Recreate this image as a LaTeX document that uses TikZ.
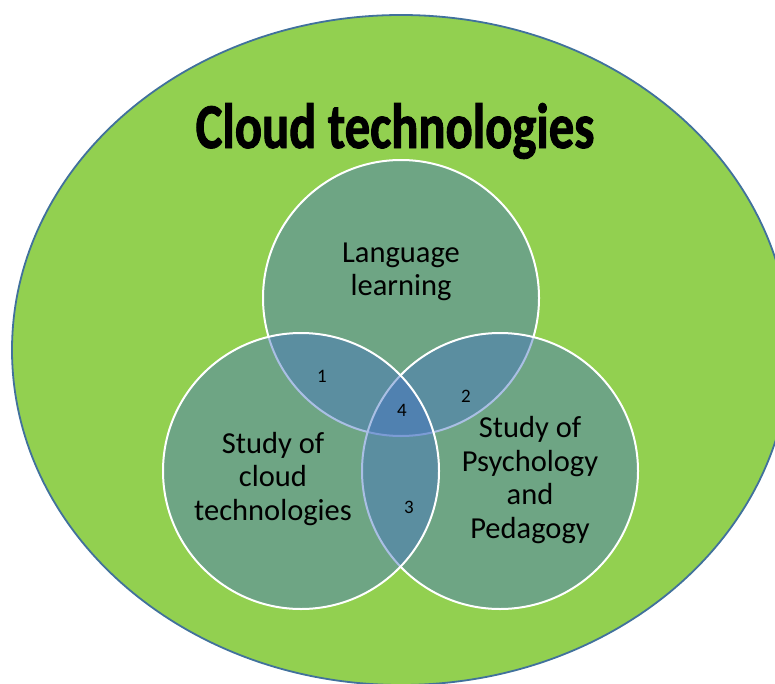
\documentclass[tikz,border=0pt]{standalone}
\usepackage{fontspec}
\setmainfont{Carlito}
\newfontfamily\titlefont[FakeStretch=0.79,FakeBold=1.4]{Carlito}
\definecolor{vnGreen}{HTML}{92D050}
\definecolor{vnRim}{HTML}{41719C}
\definecolor{vnBlue}{HTML}{4472C4}
\usetikzlibrary{positioning}

\begin{document}
\begin{tikzpicture}[
  x=1pt,y=-1pt,
  set/.style={circle,minimum size=276pt,inner sep=0pt,draw=white,line width=2pt,
              fill=vnBlue,fill opacity=0.45},
  lbl/.style={align=center,font=\fontsize{30.5}{33.5}\selectfont,text=black},
  num/.style={font=\fontsize{19}{19}\selectfont,text=black}
]
\useasboundingbox (0,0) rectangle (775,684);
\clip (0,0) rectangle (775,684);
\draw[vnRim,line width=1.8pt,fill=vnGreen] (401,350) ellipse [x radius=389, y radius=335];
\node[font=\titlefont\bfseries\fontsize{64}{64}\selectfont] (title) at (395,131) {Cloud technologies};
% the three sets
\node[set] (lang) at (401,298) {};
\node[set] (psy) at (500,471) {};
\node[set] (cloud) at (301,471) {};
\node[lbl] (langtxt) at (401,272) {Language\\learning};
\node[lbl] (cloudtxt) at (273,479) {Study of\\cloud\\technologies};
\node[lbl] (psytxt) at (530,480) {Study of\\Psychology\\and\\Pedagogy};
\foreach \x/\y/\n in {322/376/1,466/396/2,409/507/3,402/410/4}{
  \node[num] (n\n) at (\x,\y) {\n};
}
\end{tikzpicture}
\end{document}
